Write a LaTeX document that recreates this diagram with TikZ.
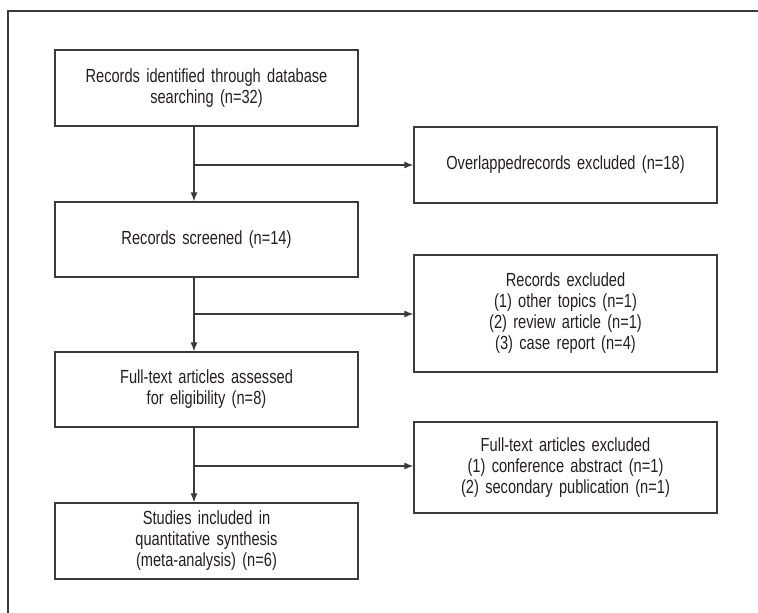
\documentclass[tikz,border=0pt]{standalone}
\usepackage{fontspec}
\setmainfont{Liberation Sans}[FakeStretch=0.77]
\usetikzlibrary{arrows.meta,calc}
\definecolor{ink}{HTML}{231F20}
\definecolor{frame}{HTML}{3A3A3A}
\tikzset{
  box/.style={draw=frame, line width=1.3pt, minimum width=303pt, inner sep=0pt,
    align=center, text=ink, font=\fontsize{19}{21}\selectfont, text width=300pt},
  conn/.style={draw=frame, line width=1.2pt},
  arr/.style={conn, -{Latex[length=9pt,width=7pt]}}
}
\begin{document}
\begin{tikzpicture}[x=1pt,y=-1pt]
\useasboundingbox (0,0) rectangle (758,613);
\draw[frame, line width=1.2pt] (8,620) -- (8,11) -- (770,11);
\node[box, minimum height=76pt] (b1) at (206.5,88) {Records identified through database\\searching (n=32)};
\node[box, minimum height=75pt] (b2) at (206.5,239.5) {Records screened (n=14)};
\node[box, minimum height=75pt] (b3) at (206.5,389.5) {Full-text articles assessed\\for eligibility (n=8)};
\node[box, minimum height=76pt] (b4) at (206.5,541) {Studies included in\\quantitative synthesis\\(meta-analysis) (n=6)};
\node[box, minimum height=76pt] (e1) at (565.5,165) {Overlappedrecords excluded (n=18)};
\node[box, minimum height=117pt] (e2) at (565.5,313.5) {Records excluded\\(1) other topics (n=1)\\(2) review article (n=1)\\(3) case report (n=4)};
\node[box, minimum height=91pt] (e3) at (565.5,467.5) {Full-text articles excluded\\(1) conference abstract (n=1)\\(2) secondary publication (n=1)};
\coordinate (j1) at (194,165);
\coordinate (j2) at (194,314);
\coordinate (j3) at (194,466);
\draw[arr] (b1.south -| j1) -- (b2.north -| j1);
\draw[arr] (b2.south -| j2) -- (b3.north -| j2);
\draw[arr] (b3.south -| j3) -- (b4.north -| j3);
\draw[arr] (j1) -- (j1 -| e1.west);
\draw[arr] (j2) -- (j2 -| e2.west);
\draw[arr] (j3) -- (j3 -| e3.west);
\end{tikzpicture}
\end{document}
